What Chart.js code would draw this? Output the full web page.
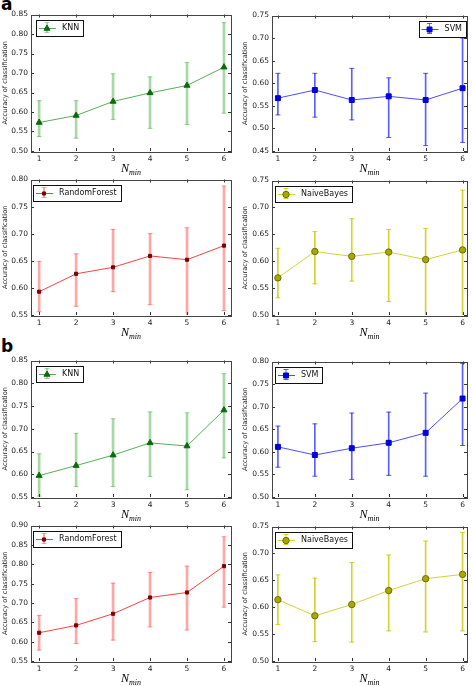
<!DOCTYPE html>
<html>
<head>
<meta charset="utf-8">
<script src="https://cdn.jsdelivr.net/npm/chart.js@4.4.1/dist/chart.umd.min.js"></script>
<style>
  body { margin: 0; background: #fff; width: 472px; height: 686px; position: relative; overflow: hidden; }
  canvas { position: absolute; }
  .tag { position: absolute; left: 1px; font: bold 17px "DejaVu Sans"; line-height: 17px; color: #000; }
  .nmin { position: absolute; width: 60px; text-align: center; font: italic 12px "Liberation Serif"; color: #000; line-height: 12px; }
  .nmin sub { font-size: 8px; vertical-align: -3px; }
</style>
</head>
<body>
<div class="tag" style="top:-4px">a</div>
<div class="tag" style="top:338px">b</div>
<script>
// x values shared by every panel
const nMin = [1, 2, 3, 4, 5, 6];

// panel a
const aKnnMean = [0.573, 0.591, 0.627, 0.649, 0.668, 0.715];
const aKnnLow  = [0.537, 0.533, 0.581, 0.558, 0.568, 0.597];
const aKnnHigh = [0.629, 0.629, 0.698, 0.690, 0.727, 0.829];

const aSvmMean = [0.567, 0.585, 0.563, 0.571, 0.563, 0.589];
const aSvmLow  = [0.530, 0.525, 0.519, 0.480, 0.462, 0.469];
const aSvmHigh = [0.622, 0.622, 0.633, 0.612, 0.622, 0.700];

const aRfMean = [0.593, 0.626, 0.638, 0.659, 0.652, 0.678];
const aRfLow  = [0.556, 0.566, 0.593, 0.569, 0.548, 0.558];
const aRfHigh = [0.649, 0.663, 0.708, 0.700, 0.711, 0.788];

const aNbMean = [0.569, 0.618, 0.609, 0.617, 0.603, 0.621];
const aNbLow  = [0.532, 0.558, 0.563, 0.525, 0.497, 0.495];
const aNbHigh = [0.624, 0.655, 0.679, 0.659, 0.661, 0.732];

// panel b
const bKnnMean = [0.597, 0.619, 0.642, 0.669, 0.662, 0.741];
const bKnnLow  = [0.552, 0.573, 0.573, 0.595, 0.566, 0.636];
const bKnnHigh = [0.645, 0.690, 0.722, 0.737, 0.735, 0.821];

const bSvmMean = [0.611, 0.593, 0.608, 0.620, 0.642, 0.718];
const bSvmLow  = [0.566, 0.546, 0.539, 0.548, 0.546, 0.614];
const bSvmHigh = [0.657, 0.662, 0.686, 0.688, 0.730, 0.796];

const bRfMean = [0.623, 0.642, 0.672, 0.714, 0.727, 0.795];
const bRfLow  = [0.578, 0.595, 0.604, 0.638, 0.630, 0.689];
const bRfHigh = [0.668, 0.711, 0.751, 0.779, 0.795, 0.871];

const bNbMean = [0.614, 0.584, 0.605, 0.631, 0.653, 0.661];
const bNbLow  = [0.568, 0.536, 0.535, 0.556, 0.554, 0.556];
const bNbHigh = [0.660, 0.654, 0.683, 0.697, 0.723, 0.739];

// y axis limits per panel
const aKnnRange = [0.50, 0.85], aSvmRange = [0.45, 0.75], aRfRange = [0.55, 0.80], aNbRange = [0.50, 0.75];
const bKnnRange = [0.55, 0.85], bSvmRange = [0.50, 0.80], bRfRange = [0.55, 0.90], bNbRange = [0.50, 0.75];

// look of each classifier
const styles = {
  KNN:          { line: 'rgba(0,128,0,0.65)', err: 'rgba(60,170,60,0.45)', ew: 2, marker: 'triangle', r: 3.5, fill: '#0b6b0b', edge: '#0b6b0b' },
  SVM:          { line: 'rgba(0,0,255,0.7)', err: 'rgba(40,40,255,0.75)', ew: 1, marker: 'rect', r: 3.5, fill: '#0000f0', edge: '#0000c0' },
  RandomForest: { line: 'rgba(255,0,0,0.75)', err: 'rgba(255,60,60,0.45)', ew: 2, marker: 'rect', r: 2.2, fill: '#7a0000', edge: '#7a0000' },
  NaiveBayes:   { line: 'rgba(200,200,0,0.8)', err: 'rgba(200,200,0,0.8)', ew: 1, marker: 'circle', r: 3.2, fill: '#a8a800', edge: '#6e6e00' }
};

const panels = [
  { name: 'KNN', mean: aKnnMean, low: aKnnLow, high: aKnnHigh, range: aKnnRange, col: 0, top: 13, bottom: 151, legend: 'left', lx: 5 },
  { name: 'SVM', mean: aSvmMean, low: aSvmLow, high: aSvmHigh, range: aSvmRange, col: 1, top: 14, bottom: 151, legend: 'right', lx: 1 },
  { name: 'RandomForest', mean: aRfMean, low: aRfLow, high: aRfHigh, range: aRfRange, col: 0, top: 178, bottom: 315, legend: 'left', lx: 2 },
  { name: 'NaiveBayes', mean: aNbMean, low: aNbLow, high: aNbHigh, range: aNbRange, col: 1, top: 179, bottom: 315, legend: 'left', lx: 3 },
  { name: 'KNN', mean: bKnnMean, low: bKnnLow, high: bKnnHigh, range: bKnnRange, col: 0, top: 359, bottom: 497, legend: 'left', lx: 5 },
  { name: 'SVM', mean: bSvmMean, low: bSvmLow, high: bSvmHigh, range: bSvmRange, col: 1, top: 360, bottom: 497, legend: 'left', lx: 3 },
  { name: 'RandomForest', mean: bRfMean, low: bRfLow, high: bRfHigh, range: bRfRange, col: 0, top: 524, bottom: 661, legend: 'left', lx: 2 },
  { name: 'NaiveBayes', mean: bNbMean, low: bNbLow, high: bNbHigh, range: bNbRange, col: 1, top: 525, bottom: 661, legend: 'left', lx: 3 }
];

Chart.defaults.font.family = '"DejaVu Sans", sans-serif';
Chart.defaults.color = '#222';

function drawMarker(ctx, s, x, y) {
  Chart.helpers.drawPoint(ctx, { pointStyle: s.marker, radius: s.r, rotation: 0, borderWidth: 1 }, x, y);
}

// frame, inward ticks and the in-plot legend, like matplotlib
const framePlugin = {
  id: 'frame',
  afterDraw(chart, args, opts) {
    const { ctx, chartArea: a, scales } = chart;
    const s = opts.style;
    ctx.save();
    ctx.strokeStyle = '#333';
    ctx.lineWidth = 1;
    ctx.beginPath();
    scales.y.ticks.forEach(t => {
      const y = Math.round(scales.y.getPixelForValue(t.value)) + 0.5;
      ctx.moveTo(a.left, y); ctx.lineTo(a.left + 3, y);
      ctx.moveTo(a.right, y); ctx.lineTo(a.right - 3, y);
    });
    scales.x.ticks.forEach(t => {
      const x = Math.round(scales.x.getPixelForValue(t.value)) + 0.5;
      ctx.moveTo(x, a.bottom); ctx.lineTo(x, a.bottom - 3);
      ctx.moveTo(x, a.top); ctx.lineTo(x, a.top + 3);
    });
    ctx.stroke();
    ctx.strokeStyle = '#444';
    ctx.strokeRect(Math.round(a.left) + 0.5, Math.round(a.top) + 0.5, Math.round(a.right - a.left), Math.round(a.bottom - a.top));

    // legend box
    ctx.font = '8px "DejaVu Sans"';
    const tw = ctx.measureText(opts.label).width;
    const w = 26 + tw + 4, h = 16;
    const x0 = opts.side === 'left' ? a.left + opts.lx : a.right - opts.lx - w;
    const y0 = a.top + 5;
    ctx.fillStyle = '#fff';
    ctx.fillRect(x0, y0, w, h);
    ctx.strokeStyle = '#111';
    ctx.strokeRect(Math.round(x0) + 0.5, Math.round(y0) + 0.5, Math.round(w), h);
    const cy = Math.round(y0 + h / 2) + 0.5, mx = x0 + 11;
    ctx.strokeStyle = s.err;
    ctx.lineWidth = s.ew;
    ctx.beginPath();
    ctx.moveTo(mx, y0 + 3); ctx.lineTo(mx, y0 + h - 3);
    ctx.stroke();
    ctx.lineWidth = 1;
    ctx.beginPath();
    ctx.moveTo(mx - 2.5, y0 + 3); ctx.lineTo(mx + 2.5, y0 + 3);
    ctx.moveTo(mx - 2.5, y0 + h - 3); ctx.lineTo(mx + 2.5, y0 + h - 3);
    ctx.stroke();
    ctx.strokeStyle = s.line;
    ctx.beginPath();
    ctx.moveTo(x0 + 3, cy); ctx.lineTo(x0 + 20, cy);
    ctx.stroke();
    ctx.fillStyle = s.fill;
    ctx.strokeStyle = s.edge;
    drawMarker(ctx, s, mx, cy);
    ctx.fillStyle = '#111';
    ctx.textBaseline = 'middle';
    ctx.fillText(opts.label, x0 + 26, y0 + h / 2 + 0.5);
    ctx.restore();
  }
};

function makeChart(p) {
  const s = styles[p.name];
  const cx = p.col ? 236 : 0;
  const L = p.col ? 272 : 31, R = p.col ? 467 : 231;
  const padTop = 6, xAxisH = 16;
  const canvas = document.createElement('canvas');
  canvas.width = 236;
  canvas.height = p.bottom - p.top + padTop + xAxisH;
  canvas.style.left = cx + 'px';
  canvas.style.top = (p.top - padTop) + 'px';
  document.body.appendChild(canvas);

  const yTicks = [];
  for (let v = p.range[0]; v <= p.range[1] + 1e-9; v += 0.05) yTicks.push(+v.toFixed(2));

  const caps = [];
  nMin.forEach((x, i) => { caps.push({ x, y: p.low[i] }); caps.push({ x, y: p.high[i] }); });

  new Chart(canvas, {
    type: 'line',
    data: {
      datasets: [
        {
          type: 'line',
          data: nMin.map((x, i) => ({ x, y: p.mean[i] })),
          borderColor: s.line,
          borderWidth: 1,
          pointStyle: s.marker,
          pointRadius: s.r,
          pointBackgroundColor: s.fill,
          pointBorderColor: s.edge,
          pointBorderWidth: 1,
          order: 0
        },
        {
          type: 'bar',
          data: nMin.map((x, i) => ({ x, y: [p.low[i], p.high[i]] })),
          backgroundColor: s.err,
          borderWidth: 0,
          barThickness: s.ew,
          order: 2
        },
        {
          type: 'scatter',
          data: caps,
          pointStyle: 'line',
          pointRadius: 2.5,
          borderColor: s.err,
          pointBorderWidth: 1,
          order: 1
        }
      ]
    },
    options: {
      responsive: false,
      animation: false,
      layout: { padding: { top: padTop, right: cx + 236 - R, left: 0, bottom: 0 } },
      plugins: {
        legend: { display: false },
        tooltip: { enabled: false },
        frame: { style: s, label: p.name, side: p.legend, lx: p.lx }
      },
      scales: {
        x: {
          type: 'linear',
          min: p.col ? 0.84 : 0.78,
          max: p.col ? 6.12 : 6.19,
          offset: false,
          grid: { display: false, drawTicks: false },
          border: { display: false },
          ticks: { padding: 4, font: { size: 7.5 }, color: '#222' },
          afterBuildTicks: sc => { sc.ticks = nMin.map(v => ({ value: v })); },
          afterFit: sc => { sc.height = xAxisH; }
        },
        y: {
          min: p.range[0],
          max: p.range[1],
          grid: { display: false, drawTicks: false },
          border: { display: false },
          ticks: { padding: 3, font: { size: 7.5 }, color: '#222', callback: v => v.toFixed(2) },
          afterBuildTicks: sc => { sc.ticks = yTicks.map(v => ({ value: v })); },
          afterFit: sc => { sc.width = L - cx; },
          title: {
            display: true,
            text: 'Accuracy of classification',
            font: { size: 6.6 },
            color: '#222',
            padding: { top: p.col ? 5 : 1, bottom: 0 }
          }
        }
      }
    },
    plugins: [framePlugin]
  });

  // x axis title N_min under the panel
  const t = document.createElement('div');
  t.className = 'nmin';
  t.innerHTML = '<i>N</i><sub><i>min</i></sub>';
  t.style.left = ((L + R) / 2 - 30) + 'px';
  t.style.top = (p.bottom + 11) + 'px';
  document.body.appendChild(t);
}

panels.forEach(makeChart);
</script>
</body>
</html>
